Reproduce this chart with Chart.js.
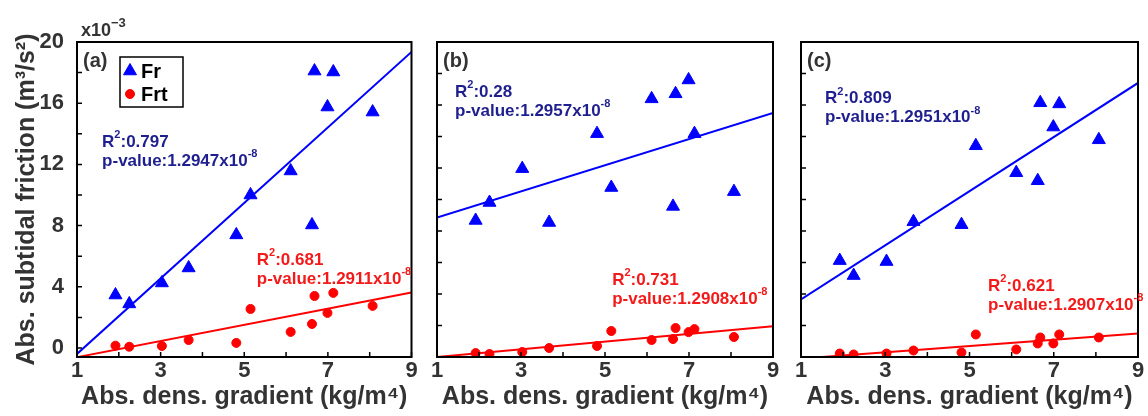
<!DOCTYPE html>
<html>
<head>
<meta charset="utf-8">
<script src="https://cdn.jsdelivr.net/npm/chart.js@4.4.1/dist/chart.umd.min.js"></script>
<style>
body { margin: 0; background: #fff; }
canvas { position: absolute; top: 0; }
</style>
</head>
<body>
<canvas id="panelA" width="420" height="416" style="left:0px"></canvas>
<canvas id="panelB" width="365" height="416" style="left:420px"></canvas>
<canvas id="panelC" width="363" height="416" style="left:785px"></canvas>
<script>
// abs. density gradient (kg/m^4), same stations in every panel
var gradient = [1.92, 2.25, 3.03, 3.67, 4.81, 5.15, 6.11, 6.62, 6.68, 6.99, 7.13, 8.07];

// abs. subtidal friction, x10^-3 m^3/s^2
var frA  = [3.46, 2.88, 4.25, 5.23, 7.39, 10.0, 11.57, 8.04, 18.1, 15.75, 18.04, 15.42];
var frtA = [0.15, 0.08, 0.13, 0.52, 0.33, 2.55, 1.05, 1.57, 3.4, 2.29, 3.6, 2.75];
var frB  = [8.67, 9.81, 11.96, 8.54, 14.18, 10.76, 16.39, 9.56, 16.71, 17.59, 14.18, 10.5];
var frtB = [0.25, 0.19, 0.32, 0.57, 0.70, 1.65, 1.08, 1.14, 1.84, 1.58, 1.77, 1.27];
var frC  = [6.12, 5.17, 6.06, 8.59, 8.4, 13.41, 11.7, 11.19, 16.14, 14.6, 16.07, 13.79];
var frtC = [0.22, 0.16, 0.22, 0.41, 0.29, 1.43, 0.48, 0.86, 1.24, 0.86, 1.43, 1.24];

// regression lines, value at x = 1 and x = 9
var fitX = [1, 9];
var fitFrA = [-0.39, 19.35], fitFrtA = [-0.6, 3.62];
var fitFrB = [8.86, 15.5],   fitFrtB = [0.0, 1.96];
var fitFrC = [3.65, 17.4],   fitFrtC = [-0.1, 1.49];

// stats written on the panels
var r2Fr  = ['0.797', '0.28', '0.809'];
var pFr   = ['1.2947', '1.2957', '1.2951'];
var r2Frt = ['0.681', '0.731', '0.621'];
var pFrt  = ['1.2911', '1.2908', '1.2907'];

var xTicks = [1, 2, 3, 4, 5, 6, 7, 8, 9];
var xTickLabels = ['1', '', '3', '', '5', '', '7', '', '9'];
var yTicks = [0, 2, 4, 6, 8, 10, 12, 14, 16, 18, 20];
var yTickLabels = ['0', '', '4', '', '8', '', '12', '', '16', '', '20'];

var FONT = '"Liberation Sans", Arial, sans-serif';
var BLUE = '#0000ff', RED = '#ff0000';
var NOTE_BLUE = '#1f1f8f', NOTE_RED = '#f41a1a';

Chart.defaults.font.family = FONT;
Chart.defaults.color = '#333';

function pts(xs, ys) {
    return xs.map(function (x, i) { return {x: x, y: ys[i]}; });
}

function richText(ctx, parts, x, y, size, supSize, color) {
    ctx.fillStyle = color;
    ctx.textBaseline = 'middle';
    ctx.textAlign = 'left';
    parts.forEach(function (p) {
        var sup = p[1];
        ctx.font = 'bold ' + (sup ? supSize : size) + 'px ' + FONT;
        ctx.fillText(p[0], x, sup ? y - size * 0.42 : y);
        x += ctx.measureText(p[0]).width;
    });
}

var panelDecor = {
    id: 'panelDecor',
    afterDraw: function (chart, args, opts) {
        var ctx = chart.ctx, a = chart.chartArea;
        var xs = chart.scales.x, ys = chart.scales.y;
        ctx.save();
        // inward tick marks, left and bottom
        ctx.strokeStyle = '#000';
        ctx.lineWidth = 1.5;
        ctx.beginPath();
        xs.ticks.forEach(function (t) {
            var px = xs.getPixelForValue(t.value);
            ctx.moveTo(px, a.bottom); ctx.lineTo(px, a.bottom - 5);
        });
        ys.ticks.forEach(function (t) {
            var py = ys.getPixelForValue(t.value);
            ctx.moveTo(a.left, py); ctx.lineTo(a.left + 5, py);
        });
        ctx.stroke();
        // frame
        ctx.lineWidth = 2;
        ctx.strokeRect(a.left, a.top, a.right - a.left, a.bottom - a.top);

        // panel letter
        ctx.fillStyle = '#333';
        ctx.font = 'bold 20px ' + FONT;
        ctx.textBaseline = 'middle';
        ctx.textAlign = 'left';
        ctx.fillText(opts.letter, a.left + 6, a.top + 19);

        if (opts.exponent) {
            richText(ctx, [['x10', false], ['\u22123', true]], a.left + 4, a.top - 11, 18, 13, '#333');
        }

        // R2 / p-value notes
        opts.notes.forEach(function (n) {
            var px = xs.getPixelForValue(n.x), py = ys.getPixelForValue(n.y);
            richText(ctx, [['R', false], ['2', true], [':' + n.r2, false]], px, py, 17, 11, n.color);
            richText(ctx, [['p-value:' + n.p + 'x10', false], ['-8', true]], px, py + 19, 17, 11, n.color);
        });

        // legend box
        if (opts.legend) {
            var lx = a.left + 43, ly = a.top + 15, lw = 63, lh = 50;
            ctx.fillStyle = '#fff';
            ctx.fillRect(lx, ly, lw, lh);
            ctx.strokeStyle = '#000';
            ctx.lineWidth = 1.5;
            ctx.strokeRect(lx, ly, lw, lh);
            var items = chart.data.datasets.filter(function (d) { return d.showInLegend; });
            items.forEach(function (d, i) {
                var cy = ly + 14 + i * 23;
                ctx.fillStyle = d.backgroundColor;
                ctx.strokeStyle = d.borderColor;
                ctx.lineWidth = 1;
                Chart.helpers.drawPoint(ctx, {
                    pointStyle: d.pointStyle, radius: d.pointRadius, borderWidth: 1
                }, lx + 10, cy);
                ctx.fillStyle = '#000';
                ctx.font = 'bold 20px ' + FONT;
                ctx.textBaseline = 'middle';
                ctx.fillText(d.label, lx + 21, cy + 1);
            });
        }
        ctx.restore();
    }
};

function makePanel(id, p) {
    var datasets = [
        {type: 'scatter', label: 'Fr', showInLegend: true, data: pts(gradient, p.fr), order: 0,
         pointStyle: 'triangle', pointRadius: 7.5, borderWidth: 1,
         backgroundColor: BLUE, borderColor: BLUE},
        {type: 'scatter', label: 'Frt', showInLegend: true, data: pts(gradient, p.frt), order: 0,
         pointStyle: 'circle', pointRadius: 4.5, borderWidth: 1,
         backgroundColor: RED, borderColor: RED},
        {type: 'line', label: 'Fr fit', data: pts(fitX, p.fitFr), order: 1,
         borderColor: BLUE, borderWidth: 2, pointRadius: 0, fill: false},
        {type: 'line', label: 'Frt fit', data: pts(fitX, p.fitFrt), order: 1,
         borderColor: RED, borderWidth: 2, pointRadius: 0, fill: false}
    ];
    return new Chart(document.getElementById(id), {
        type: 'scatter',
        data: {datasets: datasets},
        plugins: [panelDecor],
        options: {
            responsive: false,
            animation: false,
            layout: {padding: {top: 42, right: p.padRight, left: 0, bottom: 0}},
            scales: {
                x: {
                    type: 'linear', min: 1, max: 9,
                    grid: {display: false}, border: {display: false},
                    afterBuildTicks: function (s) { s.ticks = xTicks.map(function (v) { return {value: v}; }); },
                    afterFit: function (s) { s.height = 59; },
                    ticks: {
                        autoSkip: false, maxRotation: 0, padding: -7,
                        font: {size: 22, weight: 'bold'}, color: '#333',
                        callback: function (v) { return xTickLabels[xTicks.indexOf(v)]; }
                    },
                    title: {
                        display: true, text: 'Abs. dens. gradient (kg/m\u2074)',
                        font: {size: 25, weight: 'bold'}, color: '#333',
                        padding: {top: 0, bottom: 4}
                    }
                },
                y: {
                    type: 'linear', min: p.yMin, max: 20,
                    grid: {display: false}, border: {display: false},
                    afterBuildTicks: function (s) { s.ticks = yTicks.map(function (v) { return {value: v}; }); },
                    afterFit: function (s) { s.width = p.yWidth; },
                    ticks: {
                        autoSkip: false, padding: 5,
                        font: {size: 22, weight: 'bold'}, color: '#333',
                        callback: function (v) { return p.yLabels ? yTickLabels[yTicks.indexOf(v)] : ''; }
                    },
                    title: {
                        display: p.yLabels, text: 'Abs. subtidal friction (m\u00b3/s\u00b2)',
                        font: {size: 25, weight: 'bold'}, color: '#333',
                        padding: {top: 12, bottom: 0}
                    }
                }
            },
            plugins: {
                legend: {display: false},
                tooltip: {enabled: false},
                panelDecor: {
                    letter: p.letter, exponent: p.yLabels, legend: p.yLabels,
                    notes: p.notes
                }
            }
        }
    });
}

makePanel('panelA', {
    letter: '(a)', fr: frA, frt: frtA, fitFr: fitFrA, fitFrt: fitFrtA,
    yMin: -0.59, yWidth: 77, padRight: 8, yLabels: true,
    notes: [
        {x: 1.6, y: 13.46, r2: r2Fr[0], p: pFr[0], color: NOTE_BLUE},
        {x: 5.3, y: 5.75, r2: r2Frt[0], p: pFrt[0], color: NOTE_RED}
    ]
});
makePanel('panelB', {
    letter: '(b)', fr: frB, frt: frtB, fitFr: fitFrB, fitFrt: fitFrtB,
    yMin: 0, yWidth: 17, padRight: 12, yLabels: false,
    notes: [
        {x: 1.43, y: 16.8, r2: r2Fr[1], p: pFr[1], color: NOTE_BLUE},
        {x: 5.17, y: 4.87, r2: r2Frt[1], p: pFrt[1], color: NOTE_RED}
    ]
});
makePanel('panelC', {
    letter: '(c)', fr: frC, frt: frtC, fitFr: fitFrC, fitFrt: fitFrtC,
    yMin: 0, yWidth: 16, padRight: 10, yLabels: false,
    notes: [
        {x: 1.57, y: 16.4, r2: r2Fr[2], p: pFr[2], color: NOTE_BLUE},
        {x: 5.44, y: 4.47, r2: r2Frt[2], p: pFrt[2], color: NOTE_RED}
    ]
});
</script>
</body>
</html>
